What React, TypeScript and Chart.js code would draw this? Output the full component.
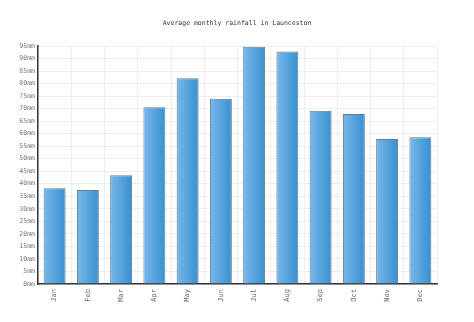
import React, { useEffect, useRef } from "react";
import { Chart, registerables } from "chart.js";

Chart.register(...registerables);

const TITLE = "Average monthly rainfall in Launceston";
const MONTHS = ["Jan", "Feb", "Mar", "Apr", "May", "Jun", "Jul", "Aug", "Sep", "Oct", "Nov", "Dec"];
const RAINFALL_MM = [38.2, 37.5, 43.4, 70.6, 82.1, 73.9, 94.7, 92.8, 69.2, 67.9, 57.9, 58.6];
const Y_MAX = 95;
const Y_STEP = 5;
const UNIT = "mm";

const BAR_PCT = 0.66;

const titlePlugin = {
  id: "customTitle",
  afterDraw(chart: any) {
    const ctx = chart.ctx;
    ctx.save();
    ctx.font = "6.5px 'DejaVu Sans Mono', monospace";
    ctx.fillStyle = "#333";
    ctx.textAlign = "center";
    ctx.textBaseline = "middle";
    ctx.fillText(TITLE, 237, 23);
    ctx.restore();
  },
};

export default function App() {
  const ref = useRef<HTMLCanvasElement | null>(null);

  useEffect(() => {
    if (!ref.current) return;
    const chart = new Chart(ref.current, {
      type: "bar",
      data: {
        labels: MONTHS,
        datasets: [
          {
            data: RAINFALL_MM,
            backgroundColor: (c: any) => {
              const ch = c.chart;
              const xs = ch.scales && ch.scales.x;
              if (!ch.chartArea || !xs || c.dataIndex === undefined) return "#4a9ad8";
              const cx = xs.getPixelForValue(c.dataIndex);
              const w = (ch.chartArea.width / MONTHS.length) * BAR_PCT;
              const g = ch.ctx.createLinearGradient(cx - w / 2, 0, cx + w / 2, 0);
              g.addColorStop(0, "#78b8ea");
              g.addColorStop(1, "#3890d0");
              return g;
            },
            borderColor: "#5d7d98",
            borderWidth: 1,
            borderSkipped: "bottom",
            barPercentage: BAR_PCT,
            categoryPercentage: 1,
          },
        ],
      },
      options: {
        responsive: false,
        animation: false,
        layout: { padding: { left: 0, right: 37, top: 46, bottom: 0 } },
        plugins: {
          legend: { display: false },
          tooltip: { enabled: false },
          title: { display: false },
        },
        scales: {
          x: {
            grid: { color: "#eeeeee", offset: true, drawTicks: false },
            border: { color: "#333", width: 1.5 },
            ticks: {
              color: "#666",
              font: { family: "'DejaVu Sans Mono', monospace", size: 7 },
              maxRotation: 90,
              minRotation: 90,
              padding: 5,
            },
            afterFit: (s: any) => {
              s.height = 38;
            },
          },
          y: {
            min: 0,
            max: Y_MAX,
            grid: { color: "#eeeeee", drawTicks: false },
            border: { color: "#333", width: 1.5 },
            ticks: {
              stepSize: Y_STEP,
              color: "#777",
              font: { family: "'DejaVu Sans Mono', monospace", size: 6.5 },
              padding: 3,
              callback: (v: any) => `${v}${UNIT}`,
            },
            afterFit: (s: any) => {
              s.width = 38;
            },
          },
        },
      },
      plugins: [titlePlugin],
    });
    return () => chart.destroy();
  }, []);

  return (
    <div style={{ position: "absolute", left: 0, top: 0, width: 474, height: 322, background: "#fff" }}>
      <canvas ref={ref} width={474} height={322} style={{ display: "block" }} />
    </div>
  );
}
